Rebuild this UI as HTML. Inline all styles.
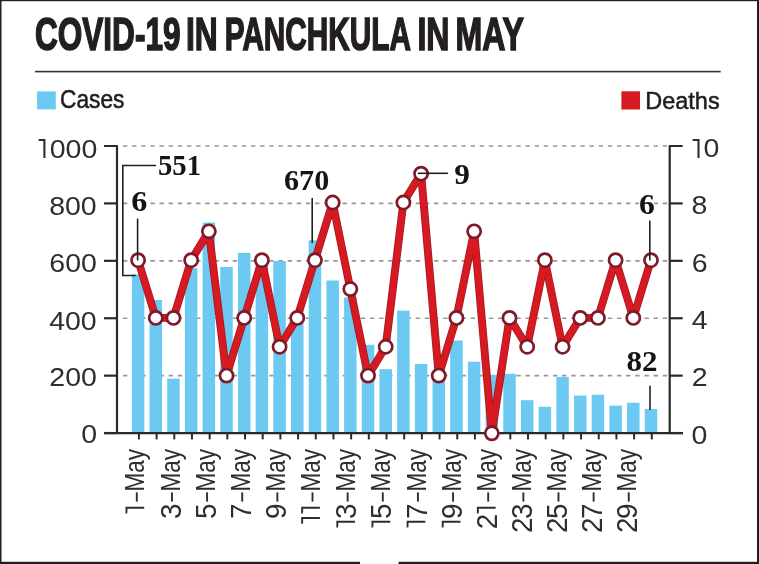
<!DOCTYPE html><html><head><meta charset="utf-8"><style>html,body{margin:0;padding:0;background:#fff;overflow:hidden;}svg{display:block;will-change:transform;}</style></head><body>
<svg width="759" height="564" viewBox="0 0 759 564">
<rect x="0" y="0" width="759" height="564" fill="#fff"/>
<rect x="0" y="0" width="759" height="1.2" fill="#231f20"/>
<rect x="0" y="0" width="1.5" height="564" fill="#231f20"/>
<rect x="757" y="0" width="2" height="564" fill="#231f20"/>
<rect x="0" y="561.8" width="360" height="2.2" fill="#231f20"/>
<rect x="398.5" y="561.8" width="360.5" height="2.2" fill="#231f20"/>
<rect x="35" y="70.8" width="685.7" height="1.6" fill="#333"/>
<rect x="37.1" y="91.4" width="18.7" height="18" fill="#6ccaf2"/>
<rect x="621.4" y="91.3" width="18.6" height="18.2" fill="#d71a21"/>
<line x1="122.9" y1="375.64" x2="668.7" y2="375.64" stroke="#979797" stroke-width="1.7" stroke-dasharray="4.4 4.75"/>
<line x1="122.9" y1="318.23" x2="668.7" y2="318.23" stroke="#979797" stroke-width="1.7" stroke-dasharray="4.4 4.75"/>
<line x1="122.9" y1="260.82" x2="668.7" y2="260.82" stroke="#979797" stroke-width="1.7" stroke-dasharray="4.4 4.75"/>
<line x1="122.9" y1="203.41" x2="668.7" y2="203.41" stroke="#979797" stroke-width="1.7" stroke-dasharray="4.4 4.75"/>
<line x1="122.9" y1="146.00" x2="668.7" y2="146.00" stroke="#979797" stroke-width="1.7" stroke-dasharray="4.4 4.75"/>
<rect x="131.85" y="274.45" width="12.5" height="158.60" fill="#6ccaf2"/>
<rect x="149.54" y="300.00" width="12.5" height="133.05" fill="#6ccaf2"/>
<rect x="167.22" y="378.65" width="12.5" height="54.40" fill="#6ccaf2"/>
<rect x="184.91" y="268.14" width="12.5" height="164.91" fill="#6ccaf2"/>
<rect x="202.59" y="222.64" width="12.5" height="210.41" fill="#6ccaf2"/>
<rect x="220.28" y="266.99" width="12.5" height="166.06" fill="#6ccaf2"/>
<rect x="237.97" y="252.93" width="12.5" height="180.12" fill="#6ccaf2"/>
<rect x="255.65" y="263.26" width="12.5" height="169.79" fill="#6ccaf2"/>
<rect x="273.34" y="260.96" width="12.5" height="172.09" fill="#6ccaf2"/>
<rect x="291.02" y="320.67" width="12.5" height="112.38" fill="#6ccaf2"/>
<rect x="308.71" y="240.30" width="12.5" height="192.75" fill="#6ccaf2"/>
<rect x="326.40" y="280.48" width="12.5" height="152.57" fill="#6ccaf2"/>
<rect x="344.08" y="297.42" width="12.5" height="135.63" fill="#6ccaf2"/>
<rect x="361.77" y="344.78" width="12.5" height="88.27" fill="#6ccaf2"/>
<rect x="379.45" y="369.18" width="12.5" height="63.87" fill="#6ccaf2"/>
<rect x="397.14" y="310.62" width="12.5" height="122.43" fill="#6ccaf2"/>
<rect x="414.83" y="364.01" width="12.5" height="69.04" fill="#6ccaf2"/>
<rect x="432.51" y="376.64" width="12.5" height="56.41" fill="#6ccaf2"/>
<rect x="450.20" y="340.48" width="12.5" height="92.57" fill="#6ccaf2"/>
<rect x="467.88" y="361.72" width="12.5" height="71.33" fill="#6ccaf2"/>
<rect x="485.57" y="374.92" width="12.5" height="58.13" fill="#6ccaf2"/>
<rect x="503.26" y="373.77" width="12.5" height="59.28" fill="#6ccaf2"/>
<rect x="520.94" y="400.18" width="12.5" height="32.87" fill="#6ccaf2"/>
<rect x="538.63" y="406.78" width="12.5" height="26.27" fill="#6ccaf2"/>
<rect x="556.31" y="376.93" width="12.5" height="56.12" fill="#6ccaf2"/>
<rect x="574.00" y="395.59" width="12.5" height="37.46" fill="#6ccaf2"/>
<rect x="591.69" y="394.73" width="12.5" height="38.32" fill="#6ccaf2"/>
<rect x="609.37" y="405.64" width="12.5" height="27.41" fill="#6ccaf2"/>
<rect x="627.06" y="402.77" width="12.5" height="30.28" fill="#6ccaf2"/>
<rect x="644.74" y="409.08" width="12.5" height="23.97" fill="#6ccaf2"/>
<path d="M104,146.0 L117.0,146.0 L117.0,433.05" fill="none" stroke="#2a2a2a" stroke-width="2.2" stroke-linejoin="round"/>
<path d="M682.7,146.0 L669.7,146.0 L669.7,433.05" fill="none" stroke="#2a2a2a" stroke-width="2.2" stroke-linejoin="round"/>
<line x1="104" y1="433.05" x2="683" y2="433.05" stroke="#2a2a2a" stroke-width="2.2"/>
<line x1="104" y1="433.05" x2="117.0" y2="433.05" stroke="#2a2a2a" stroke-width="2.2"/>
<line x1="669.7" y1="433.05" x2="682.7" y2="433.05" stroke="#2a2a2a" stroke-width="2.2"/>
<line x1="104" y1="375.64" x2="117.0" y2="375.64" stroke="#2a2a2a" stroke-width="2.2"/>
<line x1="669.7" y1="375.64" x2="682.7" y2="375.64" stroke="#2a2a2a" stroke-width="2.2"/>
<line x1="104" y1="318.23" x2="117.0" y2="318.23" stroke="#2a2a2a" stroke-width="2.2"/>
<line x1="669.7" y1="318.23" x2="682.7" y2="318.23" stroke="#2a2a2a" stroke-width="2.2"/>
<line x1="104" y1="260.82" x2="117.0" y2="260.82" stroke="#2a2a2a" stroke-width="2.2"/>
<line x1="669.7" y1="260.82" x2="682.7" y2="260.82" stroke="#2a2a2a" stroke-width="2.2"/>
<line x1="104" y1="203.41" x2="117.0" y2="203.41" stroke="#2a2a2a" stroke-width="2.2"/>
<line x1="669.7" y1="203.41" x2="682.7" y2="203.41" stroke="#2a2a2a" stroke-width="2.2"/>
<line x1="138.90" y1="433.05" x2="138.90" y2="439.4" stroke="#2a2a2a" stroke-width="2.0"/>
<line x1="156.59" y1="433.05" x2="156.59" y2="439.4" stroke="#2a2a2a" stroke-width="2.0"/>
<line x1="174.27" y1="433.05" x2="174.27" y2="439.4" stroke="#2a2a2a" stroke-width="2.0"/>
<line x1="191.96" y1="433.05" x2="191.96" y2="439.4" stroke="#2a2a2a" stroke-width="2.0"/>
<line x1="209.64" y1="433.05" x2="209.64" y2="439.4" stroke="#2a2a2a" stroke-width="2.0"/>
<line x1="227.33" y1="433.05" x2="227.33" y2="439.4" stroke="#2a2a2a" stroke-width="2.0"/>
<line x1="245.02" y1="433.05" x2="245.02" y2="439.4" stroke="#2a2a2a" stroke-width="2.0"/>
<line x1="262.70" y1="433.05" x2="262.70" y2="439.4" stroke="#2a2a2a" stroke-width="2.0"/>
<line x1="280.39" y1="433.05" x2="280.39" y2="439.4" stroke="#2a2a2a" stroke-width="2.0"/>
<line x1="298.07" y1="433.05" x2="298.07" y2="439.4" stroke="#2a2a2a" stroke-width="2.0"/>
<line x1="315.76" y1="433.05" x2="315.76" y2="439.4" stroke="#2a2a2a" stroke-width="2.0"/>
<line x1="333.45" y1="433.05" x2="333.45" y2="439.4" stroke="#2a2a2a" stroke-width="2.0"/>
<line x1="351.13" y1="433.05" x2="351.13" y2="439.4" stroke="#2a2a2a" stroke-width="2.0"/>
<line x1="368.82" y1="433.05" x2="368.82" y2="439.4" stroke="#2a2a2a" stroke-width="2.0"/>
<line x1="386.50" y1="433.05" x2="386.50" y2="439.4" stroke="#2a2a2a" stroke-width="2.0"/>
<line x1="404.19" y1="433.05" x2="404.19" y2="439.4" stroke="#2a2a2a" stroke-width="2.0"/>
<line x1="421.88" y1="433.05" x2="421.88" y2="439.4" stroke="#2a2a2a" stroke-width="2.0"/>
<line x1="439.56" y1="433.05" x2="439.56" y2="439.4" stroke="#2a2a2a" stroke-width="2.0"/>
<line x1="457.25" y1="433.05" x2="457.25" y2="439.4" stroke="#2a2a2a" stroke-width="2.0"/>
<line x1="474.93" y1="433.05" x2="474.93" y2="439.4" stroke="#2a2a2a" stroke-width="2.0"/>
<line x1="492.62" y1="433.05" x2="492.62" y2="439.4" stroke="#2a2a2a" stroke-width="2.0"/>
<line x1="510.31" y1="433.05" x2="510.31" y2="439.4" stroke="#2a2a2a" stroke-width="2.0"/>
<line x1="527.99" y1="433.05" x2="527.99" y2="439.4" stroke="#2a2a2a" stroke-width="2.0"/>
<line x1="545.68" y1="433.05" x2="545.68" y2="439.4" stroke="#2a2a2a" stroke-width="2.0"/>
<line x1="563.36" y1="433.05" x2="563.36" y2="439.4" stroke="#2a2a2a" stroke-width="2.0"/>
<line x1="581.05" y1="433.05" x2="581.05" y2="439.4" stroke="#2a2a2a" stroke-width="2.0"/>
<line x1="598.74" y1="433.05" x2="598.74" y2="439.4" stroke="#2a2a2a" stroke-width="2.0"/>
<line x1="616.42" y1="433.05" x2="616.42" y2="439.4" stroke="#2a2a2a" stroke-width="2.0"/>
<line x1="634.11" y1="433.05" x2="634.11" y2="439.4" stroke="#2a2a2a" stroke-width="2.0"/>
<line x1="651.79" y1="433.05" x2="651.79" y2="439.4" stroke="#2a2a2a" stroke-width="2.0"/>
<g transform="translate(34.923,50.430) scale(0.6473,0.9386)"><text x="0" y="0" text-anchor="start" font-family='"Liberation Sans", sans-serif' font-weight="bold" font-size="48.8" fill="#231f20" stroke="#231f20" stroke-width="1.7">COVID-19</text></g>
<g transform="translate(185.937,50.431) scale(0.6501,0.9364)"><text x="0" y="0" text-anchor="start" font-family='"Liberation Sans", sans-serif' font-weight="bold" font-size="48.8" fill="#231f20" stroke="#231f20" stroke-width="1.7">IN</text></g>
<g transform="translate(224.776,50.425) scale(0.6095,0.9474)"><text x="0" y="0" text-anchor="start" font-family='"Liberation Sans", sans-serif' font-weight="bold" font-size="48.8" fill="#231f20" stroke="#231f20" stroke-width="1.7">PANCHKULA</text></g>
<g transform="translate(417.402,50.431) scale(0.6574,0.9364)"><text x="0" y="0" text-anchor="start" font-family='"Liberation Sans", sans-serif' font-weight="bold" font-size="48.8" fill="#231f20" stroke="#231f20" stroke-width="1.7">IN</text></g>
<g transform="translate(455.576,50.431) scale(0.6580,0.9364)"><text x="0" y="0" text-anchor="start" font-family='"Liberation Sans", sans-serif' font-weight="bold" font-size="48.8" fill="#231f20" stroke="#231f20" stroke-width="1.7">MAY</text></g>
<g transform="translate(60.106,108.400) scale(0.8935,0.9818)"><text x="0" y="0" text-anchor="start" font-family='"Liberation Sans", sans-serif' font-weight="normal" font-size="25.4" fill="#1e1e1e" stroke="#1e1e1e" stroke-width="0.55">Cases</text></g>
<g transform="translate(645.303,109.000) scale(0.9241,0.9678)"><text x="0" y="0" text-anchor="start" font-family='"Liberation Sans", sans-serif' font-weight="normal" font-size="25.4" fill="#1e1e1e" stroke="#1e1e1e" stroke-width="0.55">Deaths</text></g>
<g transform="translate(97.073,442.640) scale(1.0800,1.0100)"><text x="0" y="0" text-anchor="end" font-family='"Liberation Sans", sans-serif' font-weight="normal" font-size="26.4" fill="#2e2e32">0</text></g>
<g transform="translate(691.600,443.640) scale(1.0800,1.0100)"><text x="0" y="0" text-anchor="start" font-family='"Liberation Sans", sans-serif' font-weight="normal" font-size="26.4" fill="#2e2e32">0</text></g>
<g transform="translate(96.884,385.996) scale(1.0800,1.0100)"><text x="0" y="0" text-anchor="end" font-family='"Liberation Sans", sans-serif' font-weight="normal" font-size="26.4" fill="#2e2e32">200</text></g>
<g transform="translate(691.627,385.689) scale(1.0800,1.0100)"><text x="0" y="0" text-anchor="start" font-family='"Liberation Sans", sans-serif' font-weight="normal" font-size="26.4" fill="#2e2e32">2</text></g>
<g transform="translate(96.701,329.838) scale(1.0800,1.0100)"><text x="0" y="0" text-anchor="end" font-family='"Liberation Sans", sans-serif' font-weight="normal" font-size="26.4" fill="#2e2e32">400</text></g>
<g transform="translate(691.739,329.278) scale(1.0800,1.0100)"><text x="0" y="0" text-anchor="start" font-family='"Liberation Sans", sans-serif' font-weight="normal" font-size="26.4" fill="#2e2e32">4</text></g>
<g transform="translate(96.884,271.756) scale(1.0800,1.0100)"><text x="0" y="0" text-anchor="end" font-family='"Liberation Sans", sans-serif' font-weight="normal" font-size="26.4" fill="#2e2e32">600</text></g>
<g transform="translate(691.654,271.951) scale(1.0800,1.0100)"><text x="0" y="0" text-anchor="start" font-family='"Liberation Sans", sans-serif' font-weight="normal" font-size="26.4" fill="#2e2e32">6</text></g>
<g transform="translate(96.696,214.549) scale(1.0800,1.0100)"><text x="0" y="0" text-anchor="end" font-family='"Liberation Sans", sans-serif' font-weight="normal" font-size="26.4" fill="#2e2e32">800</text></g>
<g transform="translate(691.619,214.250) scale(1.0800,1.0100)"><text x="0" y="0" text-anchor="start" font-family='"Liberation Sans", sans-serif' font-weight="normal" font-size="26.4" fill="#2e2e32">8</text></g>
<g transform="translate(97.302,157.882) scale(1.0800,1.0100)"><text x="0" y="0" text-anchor="end" font-family='"Liberation Sans", sans-serif' font-weight="normal" font-size="26.4" fill="#2e2e32">000</text></g>
<g transform="translate(703.387,157.439) scale(1.0800,1.0100)"><text x="0" y="0" text-anchor="start" font-family='"Liberation Sans", sans-serif' font-weight="normal" font-size="26.4" fill="#2e2e32">0</text></g>
<path d="M38.7,140.0 L44.4,140.0 M44.4,139.0 L44.4,158.1" fill="none" stroke="#2e2e32" stroke-width="2.1"/>
<path d="M692.7,140.0 L698.5,140.0 M698.5,139.0 L698.5,158.1" fill="none" stroke="#2e2e32" stroke-width="2.1"/>
<g transform="translate(144.200,0) rotate(-90)"><g transform="translate(-448.985,0.286) scale(0.8671,1.0483)"><text x="0" y="0" text-anchor="end" font-family='"Liberation Sans", sans-serif' font-size="26" fill="#2e2e32">May</text></g><rect x="-501.600" y="-8.350" width="9.200" height="1.9" fill="#2e2e32"/><path d="M-507.70,-18.70 L-507.70,0 M-508.65,-17.75 L-512.60,-17.75 L-512.60,-17.0" fill="none" stroke="#2e2e32" stroke-width="1.9" stroke-linejoin="miter"/></g>
<g transform="translate(179.340,0) rotate(-90)"><g transform="translate(-448.985,0.286) scale(0.8671,1.0483)"><text x="0" y="0" text-anchor="end" font-family='"Liberation Sans", sans-serif' font-size="26" fill="#2e2e32">May</text></g><rect x="-501.600" y="-8.350" width="9.200" height="1.9" fill="#2e2e32"/><g transform="translate(-511.350,1.205) scale(1.0682,1.1448)"><text x="0" y="0" text-anchor="middle" font-family='"Liberation Sans", sans-serif' font-size="26" fill="#2e2e32">3</text></g></g>
<g transform="translate(214.480,0) rotate(-90)"><g transform="translate(-448.985,0.286) scale(0.8671,1.0483)"><text x="0" y="0" text-anchor="end" font-family='"Liberation Sans", sans-serif' font-size="26" fill="#2e2e32">May</text></g><rect x="-501.600" y="-8.350" width="9.200" height="1.9" fill="#2e2e32"/><g transform="translate(-511.350,1.205) scale(1.0682,1.1448)"><text x="0" y="0" text-anchor="middle" font-family='"Liberation Sans", sans-serif' font-size="26" fill="#2e2e32">5</text></g></g>
<g transform="translate(249.620,0) rotate(-90)"><g transform="translate(-448.985,0.286) scale(0.8671,1.0483)"><text x="0" y="0" text-anchor="end" font-family='"Liberation Sans", sans-serif' font-size="26" fill="#2e2e32">May</text></g><rect x="-501.600" y="-8.350" width="9.200" height="1.9" fill="#2e2e32"/><g transform="translate(-511.350,1.205) scale(1.0682,1.1448)"><text x="0" y="0" text-anchor="middle" font-family='"Liberation Sans", sans-serif' font-size="26" fill="#2e2e32">7</text></g></g>
<g transform="translate(284.760,0) rotate(-90)"><g transform="translate(-448.985,0.286) scale(0.8671,1.0483)"><text x="0" y="0" text-anchor="end" font-family='"Liberation Sans", sans-serif' font-size="26" fill="#2e2e32">May</text></g><rect x="-501.600" y="-8.350" width="9.200" height="1.9" fill="#2e2e32"/><g transform="translate(-511.350,1.205) scale(1.0682,1.1448)"><text x="0" y="0" text-anchor="middle" font-family='"Liberation Sans", sans-serif' font-size="26" fill="#2e2e32">9</text></g></g>
<g transform="translate(319.900,0) rotate(-90)"><g transform="translate(-448.985,0.286) scale(0.8671,1.0483)"><text x="0" y="0" text-anchor="end" font-family='"Liberation Sans", sans-serif' font-size="26" fill="#2e2e32">May</text></g><rect x="-501.600" y="-8.350" width="9.200" height="1.9" fill="#2e2e32"/><path d="M-507.70,-18.70 L-507.70,0 M-508.65,-17.75 L-512.60,-17.75 L-512.60,-17.0" fill="none" stroke="#2e2e32" stroke-width="1.9" stroke-linejoin="miter"/><path d="M-518.00,-18.70 L-518.00,0 M-518.95,-17.75 L-522.90,-17.75 L-522.90,-17.0" fill="none" stroke="#2e2e32" stroke-width="1.9" stroke-linejoin="miter"/></g>
<g transform="translate(355.040,0) rotate(-90)"><g transform="translate(-448.985,0.286) scale(0.8671,1.0483)"><text x="0" y="0" text-anchor="end" font-family='"Liberation Sans", sans-serif' font-size="26" fill="#2e2e32">May</text></g><rect x="-501.600" y="-8.350" width="9.200" height="1.9" fill="#2e2e32"/><g transform="translate(-511.350,1.205) scale(1.0682,1.1448)"><text x="0" y="0" text-anchor="middle" font-family='"Liberation Sans", sans-serif' font-size="26" fill="#2e2e32">3</text></g><path d="M-521.70,-18.70 L-521.70,0 M-522.65,-17.75 L-526.60,-17.75 L-526.60,-17.0" fill="none" stroke="#2e2e32" stroke-width="1.9" stroke-linejoin="miter"/></g>
<g transform="translate(390.180,0) rotate(-90)"><g transform="translate(-448.985,0.286) scale(0.8671,1.0483)"><text x="0" y="0" text-anchor="end" font-family='"Liberation Sans", sans-serif' font-size="26" fill="#2e2e32">May</text></g><rect x="-501.600" y="-8.350" width="9.200" height="1.9" fill="#2e2e32"/><g transform="translate(-511.350,1.205) scale(1.0682,1.1448)"><text x="0" y="0" text-anchor="middle" font-family='"Liberation Sans", sans-serif' font-size="26" fill="#2e2e32">5</text></g><path d="M-521.70,-18.70 L-521.70,0 M-522.65,-17.75 L-526.60,-17.75 L-526.60,-17.0" fill="none" stroke="#2e2e32" stroke-width="1.9" stroke-linejoin="miter"/></g>
<g transform="translate(425.320,0) rotate(-90)"><g transform="translate(-448.985,0.286) scale(0.8671,1.0483)"><text x="0" y="0" text-anchor="end" font-family='"Liberation Sans", sans-serif' font-size="26" fill="#2e2e32">May</text></g><rect x="-501.600" y="-8.350" width="9.200" height="1.9" fill="#2e2e32"/><g transform="translate(-511.350,1.205) scale(1.0682,1.1448)"><text x="0" y="0" text-anchor="middle" font-family='"Liberation Sans", sans-serif' font-size="26" fill="#2e2e32">7</text></g><path d="M-521.70,-18.70 L-521.70,0 M-522.65,-17.75 L-526.60,-17.75 L-526.60,-17.0" fill="none" stroke="#2e2e32" stroke-width="1.9" stroke-linejoin="miter"/></g>
<g transform="translate(460.460,0) rotate(-90)"><g transform="translate(-448.985,0.286) scale(0.8671,1.0483)"><text x="0" y="0" text-anchor="end" font-family='"Liberation Sans", sans-serif' font-size="26" fill="#2e2e32">May</text></g><rect x="-501.600" y="-8.350" width="9.200" height="1.9" fill="#2e2e32"/><g transform="translate(-511.350,1.205) scale(1.0682,1.1448)"><text x="0" y="0" text-anchor="middle" font-family='"Liberation Sans", sans-serif' font-size="26" fill="#2e2e32">9</text></g><path d="M-521.70,-18.70 L-521.70,0 M-522.65,-17.75 L-526.60,-17.75 L-526.60,-17.0" fill="none" stroke="#2e2e32" stroke-width="1.9" stroke-linejoin="miter"/></g>
<g transform="translate(495.600,0) rotate(-90)"><g transform="translate(-448.985,0.286) scale(0.8671,1.0483)"><text x="0" y="0" text-anchor="end" font-family='"Liberation Sans", sans-serif' font-size="26" fill="#2e2e32">May</text></g><rect x="-501.600" y="-8.350" width="9.200" height="1.9" fill="#2e2e32"/><path d="M-507.70,-18.70 L-507.70,0 M-508.65,-17.75 L-512.60,-17.75 L-512.60,-17.0" fill="none" stroke="#2e2e32" stroke-width="1.9" stroke-linejoin="miter"/><g transform="translate(-521.650,1.205) scale(1.0682,1.1448)"><text x="0" y="0" text-anchor="middle" font-family='"Liberation Sans", sans-serif' font-size="26" fill="#2e2e32">2</text></g></g>
<g transform="translate(530.740,0) rotate(-90)"><g transform="translate(-448.985,0.286) scale(0.8671,1.0483)"><text x="0" y="0" text-anchor="end" font-family='"Liberation Sans", sans-serif' font-size="26" fill="#2e2e32">May</text></g><rect x="-501.600" y="-8.350" width="9.200" height="1.9" fill="#2e2e32"/><g transform="translate(-511.350,1.205) scale(1.0682,1.1448)"><text x="0" y="0" text-anchor="middle" font-family='"Liberation Sans", sans-serif' font-size="26" fill="#2e2e32">3</text></g><g transform="translate(-525.350,1.205) scale(1.0682,1.1448)"><text x="0" y="0" text-anchor="middle" font-family='"Liberation Sans", sans-serif' font-size="26" fill="#2e2e32">2</text></g></g>
<g transform="translate(565.880,0) rotate(-90)"><g transform="translate(-448.985,0.286) scale(0.8671,1.0483)"><text x="0" y="0" text-anchor="end" font-family='"Liberation Sans", sans-serif' font-size="26" fill="#2e2e32">May</text></g><rect x="-501.600" y="-8.350" width="9.200" height="1.9" fill="#2e2e32"/><g transform="translate(-511.350,1.205) scale(1.0682,1.1448)"><text x="0" y="0" text-anchor="middle" font-family='"Liberation Sans", sans-serif' font-size="26" fill="#2e2e32">5</text></g><g transform="translate(-525.350,1.205) scale(1.0682,1.1448)"><text x="0" y="0" text-anchor="middle" font-family='"Liberation Sans", sans-serif' font-size="26" fill="#2e2e32">2</text></g></g>
<g transform="translate(601.020,0) rotate(-90)"><g transform="translate(-448.985,0.286) scale(0.8671,1.0483)"><text x="0" y="0" text-anchor="end" font-family='"Liberation Sans", sans-serif' font-size="26" fill="#2e2e32">May</text></g><rect x="-501.600" y="-8.350" width="9.200" height="1.9" fill="#2e2e32"/><g transform="translate(-511.350,1.205) scale(1.0682,1.1448)"><text x="0" y="0" text-anchor="middle" font-family='"Liberation Sans", sans-serif' font-size="26" fill="#2e2e32">7</text></g><g transform="translate(-525.350,1.205) scale(1.0682,1.1448)"><text x="0" y="0" text-anchor="middle" font-family='"Liberation Sans", sans-serif' font-size="26" fill="#2e2e32">2</text></g></g>
<g transform="translate(636.160,0) rotate(-90)"><g transform="translate(-448.985,0.286) scale(0.8671,1.0483)"><text x="0" y="0" text-anchor="end" font-family='"Liberation Sans", sans-serif' font-size="26" fill="#2e2e32">May</text></g><rect x="-501.600" y="-8.350" width="9.200" height="1.9" fill="#2e2e32"/><g transform="translate(-511.350,1.205) scale(1.0682,1.1448)"><text x="0" y="0" text-anchor="middle" font-family='"Liberation Sans", sans-serif' font-size="26" fill="#2e2e32">9</text></g><g transform="translate(-525.350,1.205) scale(1.0682,1.1448)"><text x="0" y="0" text-anchor="middle" font-family='"Liberation Sans", sans-serif' font-size="26" fill="#2e2e32">2</text></g></g>
<polyline points="135.6,275.5 122.8,275.5 122.8,165.5 156,165.5" fill="none" stroke="#231f20" stroke-width="1.6"/>
<line x1="312.2" y1="198" x2="312.2" y2="243" stroke="#231f20" stroke-width="1.6"/>
<line x1="650" y1="385.8" x2="650" y2="410" stroke="#231f20" stroke-width="1.6"/>
<polyline points="138.10,260.20 155.79,317.90 173.47,317.90 191.16,260.20 208.84,231.35 226.53,375.60 244.22,317.90 261.90,260.20 279.59,346.75 297.27,317.90 314.96,260.20 332.65,202.50 350.33,289.05 368.02,375.60 385.70,346.75 403.39,202.50 421.08,173.65 438.76,375.60 456.45,317.90 474.13,231.35 491.82,433.30 509.51,317.90 527.19,346.75 544.88,260.20 562.56,346.75 580.25,317.90 597.94,317.90 615.62,260.20 633.31,317.90 650.99,260.20" fill="none" stroke="#a01a24" stroke-width="7.9" stroke-linejoin="round"/>
<polyline points="138.10,260.20 155.79,317.90 173.47,317.90 191.16,260.20 208.84,231.35 226.53,375.60 244.22,317.90 261.90,260.20 279.59,346.75 297.27,317.90 314.96,260.20 332.65,202.50 350.33,289.05 368.02,375.60 385.70,346.75 403.39,202.50 421.08,173.65 438.76,375.60 456.45,317.90 474.13,231.35 491.82,433.30 509.51,317.90 527.19,346.75 544.88,260.20 562.56,346.75 580.25,317.90 597.94,317.90 615.62,260.20 633.31,317.90 650.99,260.20" fill="none" stroke="#d71a21" stroke-width="6.3" stroke-linejoin="round"/>
<circle cx="138.10" cy="260.20" r="6.6" fill="#fff" stroke="#7f1a28" stroke-width="2.7"/>
<circle cx="155.79" cy="317.90" r="6.6" fill="#fff" stroke="#7f1a28" stroke-width="2.7"/>
<circle cx="173.47" cy="317.90" r="6.6" fill="#fff" stroke="#7f1a28" stroke-width="2.7"/>
<circle cx="191.16" cy="260.20" r="6.6" fill="#fff" stroke="#7f1a28" stroke-width="2.7"/>
<circle cx="208.84" cy="231.35" r="6.6" fill="#fff" stroke="#7f1a28" stroke-width="2.7"/>
<circle cx="226.53" cy="375.60" r="6.6" fill="#fff" stroke="#7f1a28" stroke-width="2.7"/>
<circle cx="244.22" cy="317.90" r="6.6" fill="#fff" stroke="#7f1a28" stroke-width="2.7"/>
<circle cx="261.90" cy="260.20" r="6.6" fill="#fff" stroke="#7f1a28" stroke-width="2.7"/>
<circle cx="279.59" cy="346.75" r="6.6" fill="#fff" stroke="#7f1a28" stroke-width="2.7"/>
<circle cx="297.27" cy="317.90" r="6.6" fill="#fff" stroke="#7f1a28" stroke-width="2.7"/>
<circle cx="314.96" cy="260.20" r="6.6" fill="#fff" stroke="#7f1a28" stroke-width="2.7"/>
<circle cx="332.65" cy="202.50" r="6.6" fill="#fff" stroke="#7f1a28" stroke-width="2.7"/>
<circle cx="350.33" cy="289.05" r="6.6" fill="#fff" stroke="#7f1a28" stroke-width="2.7"/>
<circle cx="368.02" cy="375.60" r="6.6" fill="#fff" stroke="#7f1a28" stroke-width="2.7"/>
<circle cx="385.70" cy="346.75" r="6.6" fill="#fff" stroke="#7f1a28" stroke-width="2.7"/>
<circle cx="403.39" cy="202.50" r="6.6" fill="#fff" stroke="#7f1a28" stroke-width="2.7"/>
<circle cx="421.08" cy="173.65" r="6.6" fill="#fff" stroke="#7f1a28" stroke-width="2.7"/>
<circle cx="438.76" cy="375.60" r="6.6" fill="#fff" stroke="#7f1a28" stroke-width="2.7"/>
<circle cx="456.45" cy="317.90" r="6.6" fill="#fff" stroke="#7f1a28" stroke-width="2.7"/>
<circle cx="474.13" cy="231.35" r="6.6" fill="#fff" stroke="#7f1a28" stroke-width="2.7"/>
<circle cx="491.82" cy="433.30" r="6.6" fill="#fff" stroke="#7f1a28" stroke-width="2.7"/>
<circle cx="509.51" cy="317.90" r="6.6" fill="#fff" stroke="#7f1a28" stroke-width="2.7"/>
<circle cx="527.19" cy="346.75" r="6.6" fill="#fff" stroke="#7f1a28" stroke-width="2.7"/>
<circle cx="544.88" cy="260.20" r="6.6" fill="#fff" stroke="#7f1a28" stroke-width="2.7"/>
<circle cx="562.56" cy="346.75" r="6.6" fill="#fff" stroke="#7f1a28" stroke-width="2.7"/>
<circle cx="580.25" cy="317.90" r="6.6" fill="#fff" stroke="#7f1a28" stroke-width="2.7"/>
<circle cx="597.94" cy="317.90" r="6.6" fill="#fff" stroke="#7f1a28" stroke-width="2.7"/>
<circle cx="615.62" cy="260.20" r="6.6" fill="#fff" stroke="#7f1a28" stroke-width="2.7"/>
<circle cx="633.31" cy="317.90" r="6.6" fill="#fff" stroke="#7f1a28" stroke-width="2.7"/>
<circle cx="650.99" cy="260.20" r="6.6" fill="#fff" stroke="#7f1a28" stroke-width="2.7"/>
<line x1="137.6" y1="218.6" x2="137.6" y2="260.4" stroke="#231f20" stroke-width="1.6"/>
<line x1="649.8" y1="220.4" x2="649.8" y2="260.4" stroke="#231f20" stroke-width="1.6"/>
<line x1="417.9" y1="173.3" x2="447.9" y2="173.3" stroke="#231f20" stroke-width="1.6"/>
<g transform="translate(158.012,175.385) scale(0.9034,0.9550)"><text x="0" y="0" text-anchor="start" font-family='"Liberation Serif", serif' font-weight="bold" font-size="31.8" fill="#141414">551</text></g>
<g transform="translate(131.337,210.542) scale(1.0143,0.9550)"><text stroke="#fff" stroke-width="2.4" stroke-linejoin="round" x="0" y="0" text-anchor="start" font-family='"Liberation Serif", serif' font-weight="bold" font-size="31.8" fill="#141414">6</text></g>
<g transform="translate(131.337,210.542) scale(1.0143,0.9550)"><text x="0" y="0" text-anchor="start" font-family='"Liberation Serif", serif' font-weight="bold" font-size="31.8" fill="#141414">6</text></g>
<g transform="translate(284.041,189.771) scale(0.9468,0.9550)"><text x="0" y="0" text-anchor="start" font-family='"Liberation Serif", serif' font-weight="bold" font-size="31.8" fill="#141414">670</text></g>
<g transform="translate(454.370,184.108) scale(0.9845,0.9550)"><text x="0" y="0" text-anchor="start" font-family='"Liberation Serif", serif' font-weight="bold" font-size="31.8" fill="#141414">9</text></g>
<g transform="translate(639.102,214.437) scale(0.9979,0.9550)"><text stroke="#fff" stroke-width="2.4" stroke-linejoin="round" x="0" y="0" text-anchor="start" font-family='"Liberation Serif", serif' font-weight="bold" font-size="31.8" fill="#141414">6</text></g>
<g transform="translate(639.102,214.437) scale(0.9979,0.9550)"><text x="0" y="0" text-anchor="start" font-family='"Liberation Serif", serif' font-weight="bold" font-size="31.8" fill="#141414">6</text></g>
<g transform="translate(626.393,371.362) scale(0.9748,0.9550)"><text x="0" y="0" text-anchor="start" font-family='"Liberation Serif", serif' font-weight="bold" font-size="31.8" fill="#141414">82</text></g>
</svg></body></html>
